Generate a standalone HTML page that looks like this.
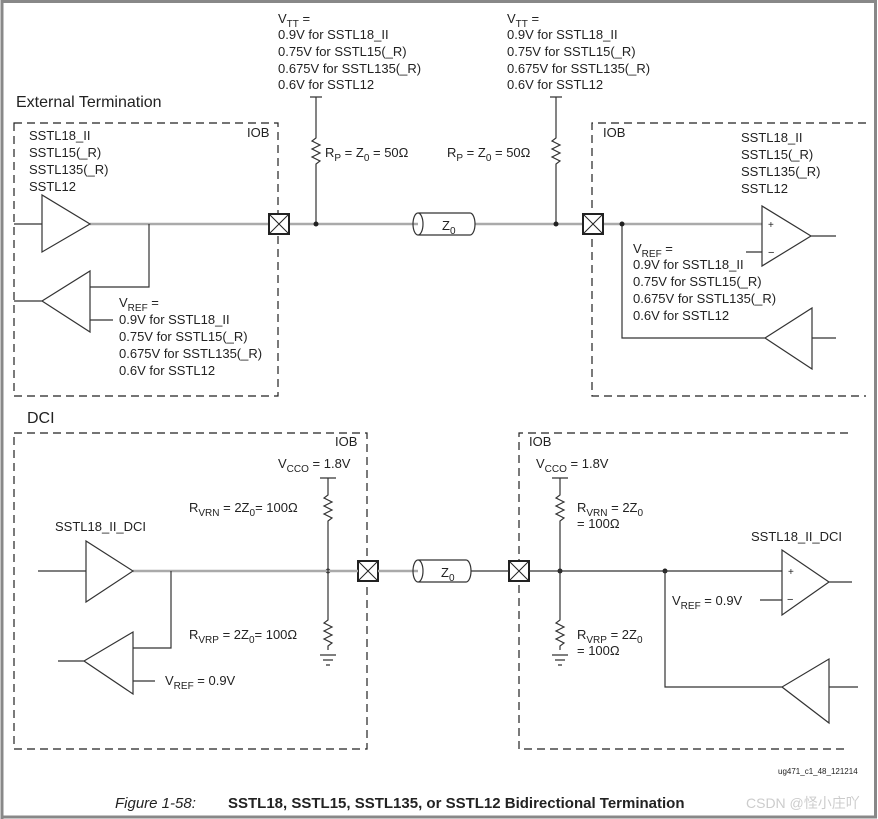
<!DOCTYPE html>
<html><head><style>
body{margin:0;background:#fff}
svg{display:block;font-family:"Liberation Sans",Arial,sans-serif}
text{font-size:13px;fill:#222}
</style></head><body>
<svg width="878" height="819" viewBox="0 0 878 819" xmlns="http://www.w3.org/2000/svg">
<rect x="0" y="0" width="878" height="819" fill="#fff"/>
<path d="M2,819V1.5H875.5V817H2" fill="none" stroke="#888" stroke-width="3"/>
<g fill="none" stroke="#222" stroke-width="1.2" stroke-dasharray="8,5">
<rect x="14" y="123" width="264" height="273"/>
<path d="M866,123H592V396H866"/>
<rect x="14" y="433" width="353" height="316"/>
<path d="M848,433H519V749H848"/>
</g>
<text x="16" y="107" style="font-size:16px">External Termination</text>
<text x="27" y="423" style="font-size:16px">DCI</text>
<g>
<text x="278" y="23">V<tspan dy="4" font-size="10">TT</tspan><tspan dy="-4"> =</tspan></text>
<text x="278" y="39">0.9V for SSTL18_II</text>
<text x="278" y="56">0.75V for SSTL15(_R)</text>
<text x="278" y="73">0.675V for SSTL135(_R)</text>
<text x="278" y="89">0.6V for SSTL12</text>
<text x="507" y="23">V<tspan dy="4" font-size="10">TT</tspan><tspan dy="-4"> =</tspan></text>
<text x="507" y="39">0.9V for SSTL18_II</text>
<text x="507" y="56">0.75V for SSTL15(_R)</text>
<text x="507" y="73">0.675V for SSTL135(_R)</text>
<text x="507" y="89">0.6V for SSTL12</text>
<text x="247" y="137">IOB</text>
<text x="603" y="137">IOB</text>
<text x="29" y="140">SSTL18_II</text><text x="29" y="157">SSTL15(_R)</text><text x="29" y="174">SSTL135(_R)</text><text x="29" y="191">SSTL12</text>
<text x="741" y="142">SSTL18_II</text><text x="741" y="159">SSTL15(_R)</text><text x="741" y="176">SSTL135(_R)</text><text x="741" y="193">SSTL12</text>
<text x="119" y="307">V<tspan dy="4" font-size="10">REF</tspan><tspan dy="-4"> =</tspan></text>
<text x="119" y="324">0.9V for SSTL18_II</text><text x="119" y="341">0.75V for SSTL15(_R)</text><text x="119" y="358">0.675V for SSTL135(_R)</text><text x="119" y="375">0.6V for SSTL12</text>
<text x="633" y="253">V<tspan dy="4" font-size="10">REF</tspan><tspan dy="-4"> =</tspan></text>
<text x="633" y="269">0.9V for SSTL18_II</text><text x="633" y="286">0.75V for SSTL15(_R)</text><text x="633" y="303">0.675V for SSTL135(_R)</text><text x="633" y="320">0.6V for SSTL12</text>
<text x="325" y="157">R<tspan dy="4" font-size="10">P</tspan><tspan dy="-4"> = Z</tspan><tspan dy="4" font-size="10">0</tspan><tspan dy="-4"> = 50Ω</tspan></text>
<text x="447" y="157">R<tspan dy="4" font-size="10">P</tspan><tspan dy="-4"> = Z</tspan><tspan dy="4" font-size="10">0</tspan><tspan dy="-4"> = 50Ω</tspan></text>
</g>
<g fill="none" stroke="#aaa" stroke-width="2.5">
<path d="M90,224H268M290,224H418M475,224H582M603,224H762"/>
</g>
<g fill="none" stroke="#333" stroke-width="1.2">
<path d="M310,97H322M316,97V138l-4,3 8,4 -8,4 8,4 -8,4 8,4 -4,3V224"/>
<path d="M550,97H562M556,97V138l-4,3 8,4 -8,4 8,4 -8,4 8,4 -4,3V224"/>
<path d="M14,224H42M42,195V252L90,224Z"/>
<path d="M149,224V287H90M14,301H42M90,271V332L42,301ZM90,320H113"/>
<path d="M762,206V266L811,236ZM811,236H836M746,252H762"/>
<path d="M622,224V338H765M812,308V369L765,338ZM812,338H836"/>
<path d="M418,213H470A5,11 0 0 1 470,235H418A5,11 0 0 1 418,213ZM418,213A5,11 0 0 1 418,235"/>
</g>
<text x="768" y="228" style="font-size:10px">+</text><text x="768" y="256" style="font-size:11px">−</text>
<text x="442" y="230">Z<tspan dy="4" font-size="10">0</tspan></text>
<g fill="#fff" stroke="#222" stroke-width="2">
<rect x="269" y="214" width="20" height="20"/><rect x="583" y="214" width="20" height="20"/>
<rect x="358" y="561" width="20" height="20"/><rect x="509" y="561" width="20" height="20"/>
</g>
<g stroke="#222" stroke-width="1"><path d="M269,214l20,20M289,214l-20,20M583,214l20,20M603,214l-20,20M358,561l20,20M378,561l-20,20M509,561l20,20M529,561l-20,20"/></g>
<g fill="#222"><circle cx="316" cy="224" r="2.5"/><circle cx="556" cy="224" r="2.5"/><circle cx="622" cy="224" r="2.5"/>
<circle cx="328" cy="571" r="2.5"/><circle cx="560" cy="571" r="2.5"/><circle cx="665" cy="571" r="2.5"/></g>
<g fill="none" stroke="#aaa" stroke-width="2.5"><path d="M133,571H358M378,571H418"/></g>
<g fill="none" stroke="#333" stroke-width="1.2">
<path d="M38,571H86M86,541V602L133,571Z"/>
<path d="M171,571V648H133M58,661H84M133,632V694L84,661ZM133,681H155"/>
<path d="M320,478H336M328,478V495l-4,3 8,4 -8,4 8,4 -8,4 8,4 -4,3V620l-4,3 8,4 -8,4 8,4 -8,4 8,4 -4,3V650M320,655H336M323,660H333M326,665H330"/>
<path d="M418,560H466A5,11 0 0 1 466,582H418A5,11 0 0 1 418,560ZM418,560A5,11 0 0 1 418,582"/>
<path d="M471,571H509M529,571H782"/>
<path d="M552,478H568M560,478V495l-4,3 8,4 -8,4 8,4 -8,4 8,4 -4,3V620l-4,3 8,4 -8,4 8,4 -8,4 8,4 -4,3V650M552,655H568M555,660H565M558,665H562"/>
<path d="M782,550V615L829,582ZM829,582H852M760,600H782"/>
<path d="M665,571V687H782M829,659V723L782,687ZM829,687H858"/>
</g>
<text x="788" y="575" style="font-size:10px">+</text><text x="787" y="603" style="font-size:11px">−</text>
<text x="441" y="577">Z<tspan dy="4" font-size="10">0</tspan></text>
<g>
<text x="335" y="446">IOB</text><text x="529" y="446">IOB</text>
<text x="278" y="468">V<tspan dy="4" font-size="10">CCO</tspan><tspan dy="-4"> = 1.8V</tspan></text>
<text x="536" y="468">V<tspan dy="4" font-size="10">CCO</tspan><tspan dy="-4"> = 1.8V</tspan></text>
<text x="189" y="512">R<tspan dy="4" font-size="10">VRN</tspan><tspan dy="-4"> = 2Z</tspan><tspan dy="4" font-size="10">0</tspan><tspan dy="-4">= 100Ω</tspan></text>
<text x="189" y="639">R<tspan dy="4" font-size="10">VRP</tspan><tspan dy="-4"> = 2Z</tspan><tspan dy="4" font-size="10">0</tspan><tspan dy="-4">= 100Ω</tspan></text>
<text x="577" y="512">R<tspan dy="4" font-size="10">VRN</tspan><tspan dy="-4"> = 2Z</tspan><tspan dy="4" font-size="10">0</tspan></text>
<text x="577" y="528">= 100Ω</text>
<text x="577" y="639">R<tspan dy="4" font-size="10">VRP</tspan><tspan dy="-4"> = 2Z</tspan><tspan dy="4" font-size="10">0</tspan></text>
<text x="577" y="655">= 100Ω</text>
<text x="55" y="531">SSTL18_II_DCI</text>
<text x="751" y="541">SSTL18_II_DCI</text>
<text x="165" y="685">V<tspan dy="4" font-size="10">REF</tspan><tspan dy="-4"> = 0.9V</tspan></text>
<text x="672" y="605">V<tspan dy="4" font-size="10">REF</tspan><tspan dy="-4"> = 0.9V</tspan></text>
<text x="778" y="774" style="font-size:8px">ug471_c1_48_121214</text>
<text x="115" y="808" style="font-size:15px;font-style:italic">Figure 1-58:</text>
<text x="228" y="808" style="font-size:15px;font-weight:bold">SSTL18, SSTL15, SSTL135, or SSTL12 Bidirectional Termination</text>
<text x="746" y="808" style="font-size:14px;fill:#ccc">CSDN @怪小庄吖</text>
</g>
</svg>
</body></html>
